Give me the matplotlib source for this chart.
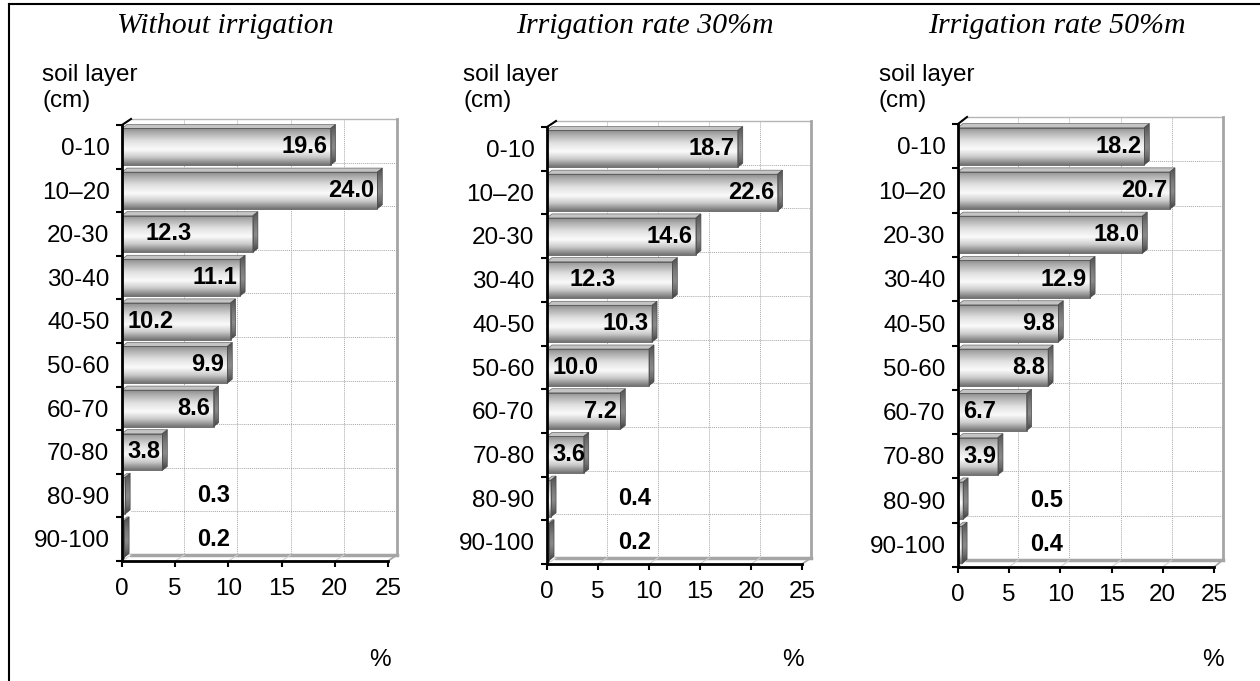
import numpy as np
import matplotlib
matplotlib.use("Agg")
import matplotlib.pyplot as plt
from matplotlib.patches import Rectangle, Polygon
from matplotlib.lines import Line2D

plt.rcParams['font.family'] = ['Liberation Sans', 'DejaVu Sans']

# ---------------- data ----------------
categories = ["0-10", "10\u201320", "20-30", "30-40", "40-50", "50-60",
              "60-70", "70-80", "80-90", "90-100"]
titles = ["Without irrigation", "Irrigation rate 30%m", "Irrigation rate 50%m"]
vals_none = [19.6, 24.0, 12.3, 11.1, 10.2, 9.9, 8.6, 3.8, 0.3, 0.2]
vals_30 = [18.7, 22.6, 14.6, 12.3, 10.3, 10.0, 7.2, 3.6, 0.4, 0.2]
vals_50 = [18.2, 20.7, 18.0, 12.9, 9.8, 8.8, 6.7, 3.9, 0.5, 0.4]
x_ticks = [0, 5, 10, 15, 20, 25]

# label placement modes (layout only): r = inside end, l = inside base,
# L = a bit further from base, c = floating
modes_none = ['r', 'r', 'L', 'r', 'l', 'r', 'r', 'l', 'c', 'c']
modes_30 = ['r', 'r', 'r', 'L', 'r', 'l', 'r', 'l', 'c', 'c']
modes_50 = ['r', 'r', 'r', 'r', 'r', 'r', 'l', 'l', 'c', 'c']

W, H = 1260, 681
fig = plt.figure(figsize=(W / 100, H / 100), dpi=100)
fig.patch.set_facecolor('white')

# figure border (top and left)
fig.add_artist(Line2D([9 / W, 1.0], [1 - 4 / H, 1 - 4 / H], color='black', lw=1.5))
fig.add_artist(Line2D([9 / W, 9 / W], [1 - 4 / H, 0], color='black', lw=1.5))

# panel layout in pixels: left, right, top, bottom of front plane; wall offset
panels = [
    dict(vals=vals_none, modes=modes_none, title=titles[0], box=(122, 388, 125, 561),
         wall=(9, 6), tcx=225, slx=42, pct=380),
    dict(vals=vals_30, modes=modes_30, title=titles[1], box=(547, 802, 127, 564),
         wall=(9, 6), tcx=645, slx=463, pct=793),
    dict(vals=vals_50, modes=modes_50, title=titles[2], box=(958, 1214, 124, 567),
         wall=(9, 7), tcx=1057, slx=879, pct=1213),
]

# gradient profiles
prof_t = np.array([0.0, 0.12, 0.35, 0.58, 0.78, 1.0])
prof_v = np.array([0.55, 0.68, 0.88, 0.98, 0.80, 0.45])
tt = np.linspace(0, 1, 64)
front_grad = np.interp(tt, prof_t, prof_v).reshape(-1, 1)
side_grad = (np.interp(tt, prof_t, prof_v) * 0.55).reshape(-1, 1)

FS = 17.5

for p in panels:
    l, r, t, b = p['box']
    ax = fig.add_axes([l / W, 1 - b / H, (r - l) / W, (b - t) / H])
    ax.patch.set_visible(False)
    for s in ax.spines.values():
        s.set_visible(False)
    ncat = len(categories)
    pxx = (r - l) / 25.0
    pxy = (b - t) / ncat
    wdx = p['wall'][0] / pxx
    wdy = p['wall'][1] / pxy
    bdx = 5 / pxx
    bdy = 4 / pxy

    # back wall
    ax.add_patch(Rectangle((wdx, -wdy), 25, ncat, facecolor='white', edgecolor='none',
                           zorder=0.5, clip_on=False))
    for xv in x_ticks[1:-1]:
        ax.plot([xv + wdx, xv + wdx], [-wdy, ncat - wdy], color='#a8a8a8', ls=(0, (1, 1)),
                lw=0.7, zorder=0.6, clip_on=False)
    for yv in range(1, ncat):
        ax.plot([wdx, 25 + wdx], [yv - wdy, yv - wdy], color='#a8a8a8', ls=(0, (1, 1)),
                lw=0.7, zorder=0.6, clip_on=False)
    ax.plot([wdx, 25 + wdx], [-wdy, -wdy], color='#b5b5b5', lw=1.0, zorder=0.7, clip_on=False)
    ax.plot([25 + wdx, 25 + wdx], [-wdy, ncat - wdy], color='#a5a5a5', lw=2.0, zorder=0.7,
            clip_on=False)
    ax.plot([wdx, 25 + wdx], [ncat - wdy, ncat - wdy], color='#a5a5a5', lw=2.5, zorder=0.7,
            clip_on=False)
    # floor diagonals
    for xv in x_ticks:
        c = '#a5a5a5' if xv == 25 else '#d0d0d0'
        ax.plot([xv, xv + wdx], [ncat, ncat - wdy], color=c, lw=1.2 if xv == 25 else 0.8,
                zorder=0.7, clip_on=False)
    # top diagonal of the axis
    ax.plot([0, wdx], [0, -wdy], color='black', lw=1.5, zorder=5, clip_on=False)

    # bars
    for i, v in enumerate(p['vals']):
        y0 = i + 0.08
        y1 = i + 0.92
        zb = 2 + i * 0.01
        rect = Rectangle((0, y0), v, y1 - y0, facecolor='none', edgecolor='#5a5a5a',
                         lw=0.6, zorder=zb + 0.003, clip_on=False)
        ax.add_patch(rect)
        im = ax.imshow(front_grad, extent=(0, v, y1, y0), origin='upper', aspect='auto',
                       cmap='gray', vmin=0, vmax=1, interpolation='bicubic', zorder=zb)
        im.set_clip_path(rect)
        top = Polygon([(0, y0), (v, y0), (v + bdx, y0 - bdy), (bdx, y0 - bdy)], closed=True,
                      facecolor='#c4c4c4', edgecolor='#6a6a6a', lw=0.5, zorder=zb + 0.001,
                      clip_on=False)
        ax.add_patch(top)
        side = Polygon([(v, y0), (v + bdx, y0 - bdy), (v + bdx, y1 - bdy), (v, y1)],
                       closed=True, facecolor='none', edgecolor='#4a4a4a', lw=0.5,
                       zorder=zb + 0.004, clip_on=False)
        ax.add_patch(side)
        im2 = ax.imshow(side_grad, extent=(v, v + bdx, y1, y0 - bdy), origin='upper',
                        aspect='auto', cmap='gray', vmin=0, vmax=1, interpolation='bicubic',
                        zorder=zb + 0.002)
        im2.set_clip_path(side)

        m = p['modes'][i]
        yc = (y0 + y1) / 2
        kw = dict(fontsize=17, fontweight='bold', va='center', zorder=6, color='black')
        if m == 'r':
            ax.text(v - 0.3, yc, f"{v:.1f}", ha='right', **kw)
        elif m == 'l':
            ax.text(0.5, yc, f"{v:.1f}", ha='left', **kw)
        elif m == 'L':
            ax.text(2.2, yc, f"{v:.1f}", ha='left', **kw)
        else:
            ax.text(8.6, yc, f"{v:.1f}", ha='center', **kw)

    ax.plot([0, 0], [0, ncat], color='black', lw=2, zorder=5, clip_on=False)
    ax.plot([0, 25], [ncat, ncat], color='black', lw=2, zorder=5, clip_on=False)

    ax.set_xlim(0, 25)
    ax.set_ylim(ncat, 0)
    ax.set_xticks(x_ticks)
    ax.set_xticklabels([str(x) for x in x_ticks])
    ax.set_yticks(np.arange(ncat) + 0.55)
    ax.set_yticklabels(categories)
    ax.set_yticks(np.arange(ncat + 1), minor=True)
    ax.tick_params(axis='x', which='major', direction='out', length=4, width=1.5,
                   labelsize=FS, pad=8)
    ax.tick_params(axis='y', which='major', length=0, labelsize=FS, pad=9)
    ax.tick_params(axis='y', which='minor', direction='out', length=4, width=1.5)
    for lab in ax.get_yticklabels():
        lab.set_verticalalignment('center')

    fig.text(p['tcx'] / W, 1 - 26 / H, p['title'], family='Liberation Serif', style='italic',
             fontsize=21.5, ha='center', va='center')
    fig.text(p['slx'] / W, 1 - 75 / H, "soil layer", fontsize=FS, ha='left', va='center')
    fig.text(p['slx'] / W, 1 - 101 / H, "(cm)", fontsize=FS, ha='left', va='center')
    fig.text(p['pct'] / W, 1 - 660 / H, "%", fontsize=FS, ha='center', va='center')

fig.savefig("out.png", dpi=100, facecolor='white')
